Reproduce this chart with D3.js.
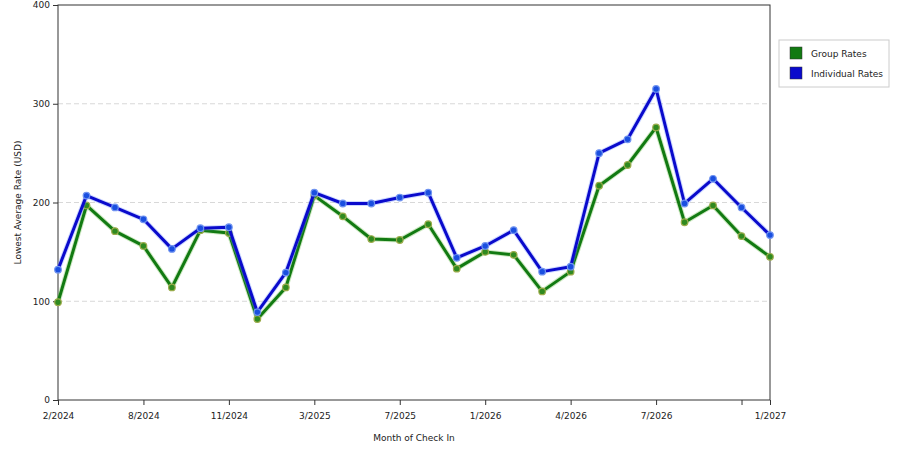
<!DOCTYPE html>
<html>
<head>
<meta charset="utf-8">
<script src="https://cdn.jsdelivr.net/npm/d3@7"></script>
<style>
body { margin: 0; background: #fff; }
text { font-family: "DejaVu Sans", Verdana, sans-serif; fill: #222; }
</style>
</head>
<body>
<svg id="chart" width="900" height="450"></svg>
<script>
// months with data (only some of them get a label on the axis)
var months = ["2/2024","4/2024","6/2024","8/2024","9/2024","10/2024","11/2024","12/2024","2/2025",
  "3/2025","4/2025","6/2025","7/2025","9/2025","11/2025","1/2026","2/2026","3/2026",
  "4/2026","5/2026","6/2026","7/2026","9/2026","10/2026","12/2026","1/2027"];
var groupRates = [99,197,171,156,114,172,169,82,114,207,186,163,162,178,133,150,147,110,
  130,217,238,276,180,197,166,145];
var individualRates = [132,207,195,183,153,174,175,89,129,210,199,199,205,210,144,156,172,130,
  135,250,264,315,199,224,195,167];
var tickMonths = ["2/2024","8/2024","11/2024","3/2025","7/2025","1/2026","4/2026","7/2026","12/2026","1/2027"];
var labelledMonths = ["2/2024","8/2024","11/2024","3/2025","7/2025","1/2026","4/2026","7/2026","1/2027"];
var yTicks = [0,100,200,300,400];

var svg = d3.select('#chart');
var plotLeft = 58, plotTop = 5, plotRight = 770, plotBottom = 400;

var x = d3.scalePoint().domain(months).range([plotLeft, plotRight]);
var y = d3.scaleLinear().domain([0, 400]).range([plotBottom, plotTop]);

// grid
svg.append('g').selectAll('line')
  .data([100,200,300]).enter().append('line')
  .attr('x1', plotLeft).attr('x2', plotRight)
  .attr('y1', function(d){ return y(d); }).attr('y2', function(d){ return y(d); })
  .style('stroke', '#d8d8d8').style('stroke-dasharray', '5,3');

// frame
svg.append('rect')
  .attr('x', plotLeft).attr('y', plotTop)
  .attr('width', plotRight - plotLeft).attr('height', plotBottom - plotTop)
  .style('fill', 'none').style('stroke', '#333');

var xAxis = d3.axisBottom(x).tickValues(tickMonths).tickSize(5).tickSizeOuter(0)
  .tickFormat(function(d){ return labelledMonths.indexOf(d) >= 0 ? d : ''; });
var gx = svg.append('g').attr('transform', 'translate(0,' + plotBottom + ')').call(xAxis);
gx.select('.domain').remove();
gx.selectAll('line').style('stroke', '#333');
gx.selectAll('text').style('font-size', '9px').attr('dy', '1.25em');

var yAxis = d3.axisLeft(y).tickValues(yTicks).tickSize(5).tickSizeOuter(0);
var gy = svg.append('g').attr('transform', 'translate(' + plotLeft + ',0)').call(yAxis);
gy.select('.domain').remove();
gy.selectAll('line').style('stroke', '#333');
gy.selectAll('text').style('font-size', '9px');

svg.append('text')
  .attr('x', (plotLeft + plotRight) / 2).attr('y', 441)
  .style('font-size', '9px').style('text-anchor', 'middle')
  .text('Month of Check In');

svg.append('text')
  .attr('transform', 'translate(21,' + ((plotTop + plotBottom) / 2) + ') rotate(-90)')
  .style('font-size', '9px').style('text-anchor', 'middle')
  .text('Lowest Average Rate (USD)');

function drawSeries(values, lineColor, haloColor, dotColor, dotStroke)
{
  var line = d3.line()
    .x(function(d, i){ return x(months[i]); })
    .y(function(d){ return y(d); });

  svg.append('path').datum(values)
    .attr('d', line)
    .style('fill', 'none').style('stroke', haloColor)
    .style('stroke-width', 5).style('stroke-opacity', 0.35)
    .style('stroke-linejoin', 'round');

  svg.append('path').datum(values)
    .attr('d', line)
    .style('fill', 'none').style('stroke', lineColor)
    .style('stroke-width', 3)
    .style('stroke-linejoin', 'round');

  svg.append('g').selectAll('circle')
    .data(values).enter().append('circle')
    .attr('cx', function(d, i){ return x(months[i]); })
    .attr('cy', function(d){ return y(d); })
    .attr('r', 3.3)
    .style('fill', dotColor)
    .style('stroke', dotStroke).style('stroke-width', 1.2);
}

drawSeries(groupRates, '#127a12', '#6fbf4f', '#2f8a1f', '#9aab4a');
drawSeries(individualRates, '#0a0acc', '#6f8fff', '#1a4fe0', '#6f93f0');

// legend
var legend = svg.append('g').attr('transform', 'translate(779,40)');
legend.append('rect')
  .attr('width', 110).attr('height', 47)
  .style('fill', '#fff').style('stroke', '#cccccc');

var legendItems = [["Group Rates", "#127a12"], ["Individual Rates", "#0a0acc"]];
legendItems.forEach(function(item, i)
{
  legend.append('rect')
    .attr('x', 11).attr('y', 7 + i * 20)
    .attr('width', 12).attr('height', 12)
    .style('fill', item[1]).style('stroke', '#333').style('stroke-width', 0.5);
  legend.append('text')
    .attr('x', 32).attr('y', 17 + i * 20)
    .style('font-size', '9px')
    .text(item[0]);
});
</script>
</body>
</html>
